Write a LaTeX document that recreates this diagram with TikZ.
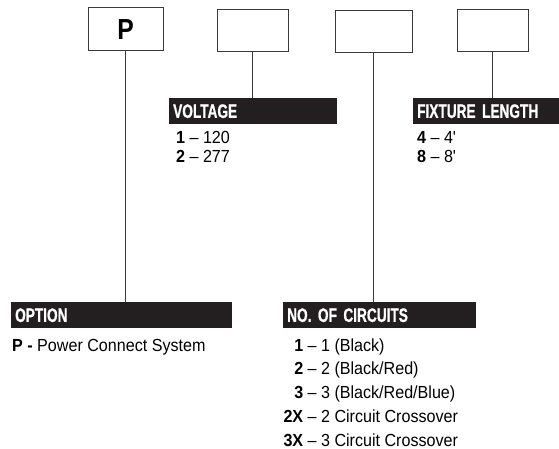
\documentclass[tikz,border=0pt]{standalone}
\usepackage{fontspec}
\setmainfont{Liberation Sans}[FakeStretch=0.92]
\newfontfamily\headfont{Liberation Sans}[FakeStretch=0.7,FakeBold=0.8]
\newfontfamily\boxfont{Liberation Sans}[FakeStretch=0.85]
\definecolor{barblack}{HTML}{231F20}
\definecolor{linegray}{HTML}{3A3A3A}
\begin{document}
\begin{tikzpicture}[x=1pt,y=-1pt,
  codebox/.style={draw=linegray,line width=1pt,minimum height=42pt,inner sep=0pt},
  bar/.style={fill=barblack,text=white,anchor=north west,minimum height=26pt,
    inner xsep=4pt,inner ysep=0pt,align=left,
    font=\headfont\bfseries\fontsize{19.5}{20}\selectfont},
  item/.style={anchor=base west,inner sep=0pt,font=\fontsize{17.5}{18}\selectfont},
  lead/.style={draw=linegray,line width=1pt}]
  \useasboundingbox (0,0) rectangle (559,449);
  % code boxes
  \node[codebox,minimum width=75pt,minimum height=43pt,
    font=\boxfont\bfseries\fontsize{29}{30}\selectfont] (boxopt) at (125.5,29.5) {P};
  \node[codebox,minimum width=71pt] (boxvolt) at (252.5,31) {};
  \node[codebox,minimum width=77pt] (boxcirc) at (373.5,32) {};
  \node[codebox,minimum width=71pt] (boxlen) at (492.5,31) {};
  % header bars
  \node[bar,text width=160pt] (barvolt) at (169,98) {VOLTAGE};
  \node[bar,text width=138pt] (barlen) at (413,98) {FIXTURE LENGTH};
  \node[bar,text width=213pt] (baropt) at (11,302) {OPTION};
  \node[bar,text width=185pt] (barcirc) at (283,302) {NO. OF CIRCUITS};
  % leads
  \draw[lead] (boxopt.south) -- (boxopt.south |- baropt.north);
  \draw[lead] (boxvolt.south) -- (boxvolt.south |- barvolt.north);
  \draw[lead] (boxcirc.south) -- (boxcirc.south |- barcirc.north);
  \draw[lead] (boxlen.south) -- (boxlen.south |- barlen.north);
  % choices
  \node[item] (volt1) at (176,144) {\textbf{1} -- 120};
  \node[item] (volt2) at (176,163) {\textbf{2} -- 277};
  \node[item] (len1) at (417,144) {\textbf{4} -- 4\textquotesingle};
  \node[item] (len2) at (417,163) {\textbf{8} -- 8\textquotesingle};
  \node[item] (opt1) at (12,351) {\textbf{P -} Power Connect System};
  \foreach \num/\desc [count=\i] in {{1}/{1 (Black)},{2}/{2 (Black/Red)},
      {3}/{3 (Black/Red/Blue)},{2X}/{2 Circuit Crossover},{3X}/{3 Circuit Crossover}}
    \node[item] (circ\i) at (283,{351+23.75*(\i-1)})
      {\makebox[20pt][r]{\textbf{\num}} -- \desc};
\end{tikzpicture}
\end{document}
